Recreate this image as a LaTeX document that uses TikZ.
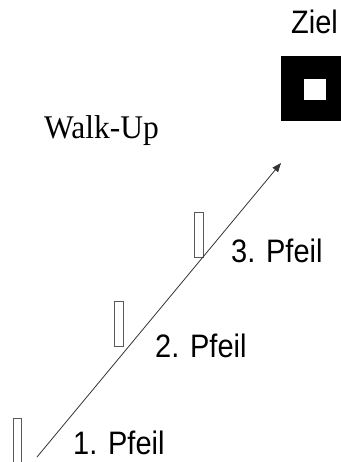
\documentclass[tikz,border=0pt]{standalone}
\usepackage{fontspec}
\usepackage{graphicx}
\setmainfont{Liberation Serif}
\newfontfamily\arialfont{Liberation Sans}
\usetikzlibrary{arrows.meta}
\tikzset{
  lbl/.style={anchor=base west, inner sep=0pt, font=\arialfont\fontsize{29}{29}\selectfont},
  ttl/.style={anchor=base west, inner sep=0pt, font=\fontsize{31.5}{31.5}\selectfont},
  marker/.style={draw=black!65, line width=0.8pt},
  walk/.style={draw=black!80, line width=0.8pt, -{Triangle[length=9pt,width=7pt]}}
}
\begin{document}
\begin{tikzpicture}[x=1pt,y=-1pt]
\useasboundingbox (0,0) rectangle (340,462);
\node[lbl] (ziel) at (291,34) {\scalebox{1}[1.12]{Ziel}};
\fill[black] (281,56) rectangle (341,121);
\fill[white] (304,79) rectangle (326,100);
\node[ttl] (walk) at (44,139) {\scalebox{1}[1.05]{Walk-Up}};
\draw[marker] (13,418) rectangle (21,470);
\draw[marker] (114,301) rectangle (123,346);
\draw[marker] (194,212) rectangle (203,257);
\coordinate (start) at (37,457);
\coordinate (tip) at (281,163);
\draw[walk] (start) -- (tip);
\node[lbl] (p3) at (231,262) {\scalebox{1}[1.12]{3. Pfeil}};
\node[lbl] (p2) at (155,357) {\scalebox{1}[1.12]{2. Pfeil}};
\node[lbl] (p1) at (73,454) {\scalebox{1}[1.12]{1. Pfeil}};
\end{tikzpicture}
\end{document}
